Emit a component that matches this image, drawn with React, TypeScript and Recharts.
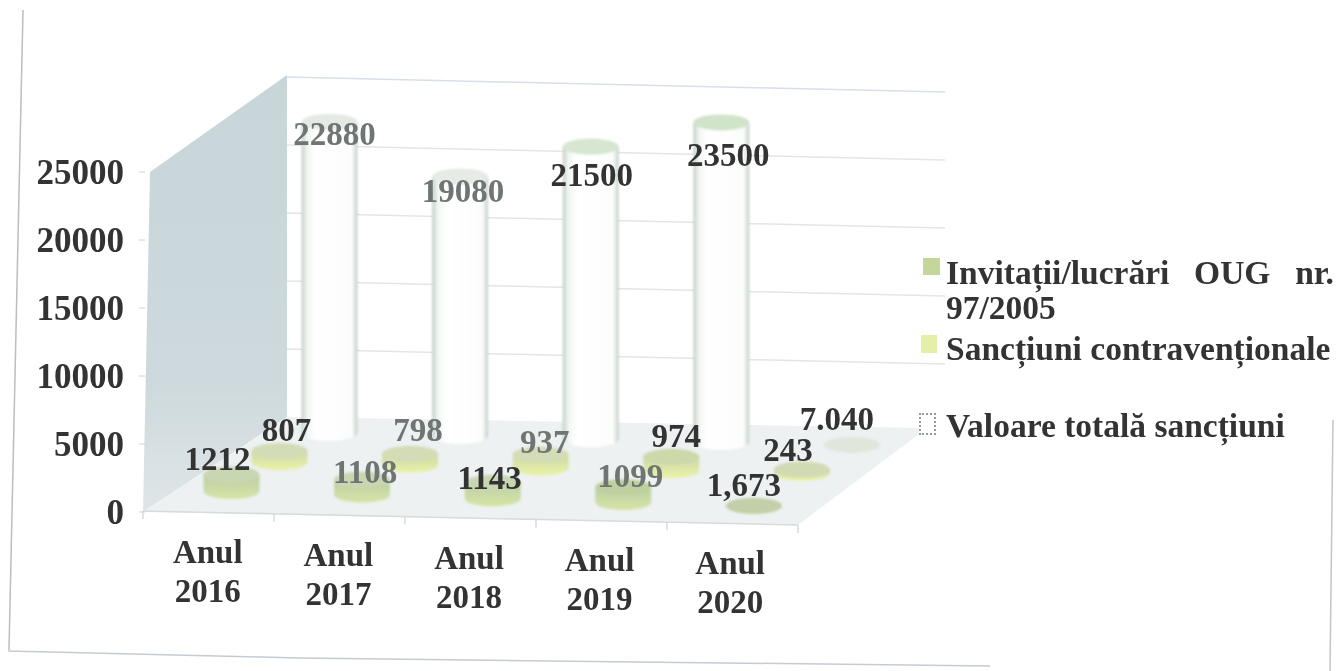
import { Bar, BarChart, LabelList, Legend, XAxis, YAxis } from "recharts";

const categories = ["Anul 2016", "Anul 2017", "Anul 2018", "Anul 2019", "Anul 2020"];
const invitatii = [1212, 1108, 1143, 1099, 1.673];
const sanctiuni = [807, 798, 937, 974, 243];
const valoare = [22880, 19080, 21500, 23500, 7.04];

const invitatiiLabels = ["1212", "1108", "1143", "1099", "1,673"];
const sanctiuniLabels = ["807", "798", "937", "974", "243"];
const valoareLabels = ["22880", "19080", "21500", "23500", "7.040"];

const yTicks = [0, 5000, 10000, 15000, 20000, 25000];

const rows = categories.map((category, i) => ({
  category,
  invitatii: invitatii[i],
  sanctiuni: sanctiuni[i],
  valoare: valoare[i],
}));

const FONT = "'Liberation Serif', serif";
const INK = "#333";
const FADED = "#6f7573";

// the chart is a scanned 3d one, each series row sits deeper on the floor
const BAR_WIDTH = 56;

type Row3d = {
  dx: number;
  dy: number;
  slope: number;
  body: string;
  tops: string[];
  nudges: [number, number][];
  inks: string[];
  labels: string[];
};

const frontRow: Row3d = {
  dx: 21.5,
  dy: -21,
  slope: 3.7,
  body: "url(#greenBody)",
  tops: ["#c9d6b2", "#c9d6b2", "#c9d6b2", "#bfd09f", "#c2cfa9"],
  nudges: [[-14, -16], [3, -8], [-3, -5], [7, -12], [-10, -21]],
  inks: [INK, FADED, INK, FADED, INK],
  labels: invitatiiLabels,
};

const middleRow: Row3d = {
  dx: 69.5,
  dy: -50,
  slope: 2.7,
  body: "url(#yellowBody)",
  tops: ["#d3dcb6", "#d3dcb6", "#d3dcb6", "#cdd8ab", "#d2dab4"],
  nudges: [[7, -22], [8, -24], [4, -13], [5, -21], [-14, -20]],
  inks: [INK, FADED, FADED, INK, INK],
  labels: sanctiuniLabels,
};

const backRow: Row3d = {
  dx: 119.5,
  dy: -79,
  slope: 3,
  body: "url(#whiteBody)",
  tops: ["#e4e9e4", "#e6ebe6", "#d6e6d0", "#cfe4c8", "#e0e6dc"],
  nudges: [[5, 12], [3, 14], [1, 28], [7, 32], [-15, -26]],
  inks: [FADED, FADED, INK, INK, INK],
  labels: valoareLabels,
};

const cylinder = (row: Row3d) => (props: any) => {
  const { x, y, width, height, index } = props;
  const rx = width / 2;
  const ry = 8;
  const cx = x + rx + row.dx;
  const shift = row.dy + row.slope * index;
  const top = y + shift;
  const base = y + height + shift;
  return (
    <g style={{ filter: "blur(1px)" }}>
      <path
        d={`M${cx - rx} ${top} L${cx - rx} ${base} A${rx} ${ry} 0 0 0 ${cx + rx} ${base} L${cx + rx} ${top} Z`}
        fill={row.body}
      />
      <ellipse cx={cx} cy={top} rx={rx} ry={ry} fill={row.tops[index]} />
    </g>
  );
};

const rowLabel = (row: Row3d) => (props: any) => {
  const box = props.viewBox ?? props;
  const index = props.index;
  const cx = box.x + box.width / 2 + row.dx;
  const top = box.y + row.dy + row.slope * index;
  const [nx, ny] = row.nudges[index];
  return (
    <text
      x={cx + nx}
      y={top + ny}
      dy="0.35em"
      textAnchor="middle"
      fontFamily={FONT}
      fontWeight="bold"
      fontSize={33}
      fill={row.inks[index]}
    >
      {row.labels[index]}
    </text>
  );
};

const YearTick = (props: any) => {
  const { x, y, payload, index } = props;
  const [word, year] = String(payload.value).split(" ");
  const drop = 2.8 * index;
  return (
    <text x={x - 2.5} textAnchor="middle" fontFamily={FONT} fontWeight="bold" fontSize={33} fill={INK}>
      <tspan x={x - 2.5} y={y + 51 + drop}>{word}</tspan>
      <tspan x={x - 2.5} y={y + 90 + drop}>{year}</tspan>
    </text>
  );
};

const legendTops = [255, 331, 408];
const legendMarks = [
  { left: 923, top: 258, w: 17, h: 17 },
  { left: 921, top: 335, w: 16, h: 18 },
  { left: 919, top: 413, w: 17, h: 22 },
];

const ChartLegend = (props: any) => {
  const items = props.payload ?? [];
  return (
    <div style={{ position: "relative", width: 1336, height: 671, fontFamily: FONT }}>
      {items.map((item: any, i: number) => (
        <div key={item.value}>
          <div
            style={{
              position: "absolute",
              left: legendMarks[i].left,
              top: legendMarks[i].top,
              width: legendMarks[i].w,
              height: legendMarks[i].h,
              background: item.color,
              border: i === 2 ? "2px dotted #999" : "none",
              boxSizing: "border-box",
            }}
          />
          <div
            style={{
              position: "absolute",
              left: 946,
              top: legendTops[i],
              width: 388,
              textAlign: "justify",
              fontWeight: "bold",
              fontSize: 33.5,
              lineHeight: "35px",
              color: INK,
            }}
          >
            {item.value}
          </div>
        </div>
      ))}
    </div>
  );
};

// walls and floor of the 3d box, these are behind the chart
const wallGrid = yTicks.map((v) => 417 - v * 0.0136);
const floorTicks = [0, 1, 2, 3, 4, 5];

const Box3d = () => (
  <svg width={1336} height={671} style={{ position: "absolute", left: 0, top: 0 }}>
    <defs>
      <linearGradient id="whiteBody" x1="0" x2="1" y1="0" y2="0">
        <stop offset="0" stopColor="#c2cfc8" />
        <stop offset="0.1" stopColor="#f2f6f2" />
        <stop offset="0.25" stopColor="#ffffff" />
        <stop offset="0.9" stopColor="#fbfdfb" />
        <stop offset="1" stopColor="#c2cfc8" />
      </linearGradient>
      <linearGradient id="greenBody" x1="0" x2="0" y1="0" y2="1">
        <stop offset="0" stopColor="#bccea6" />
        <stop offset="1" stopColor="#d6e6a6" />
      </linearGradient>
      <linearGradient id="yellowBody" x1="0" x2="0" y1="0" y2="1">
        <stop offset="0" stopColor="#ced9a8" />
        <stop offset="1" stopColor="#eaf2a6" />
      </linearGradient>
      <linearGradient id="wallFade" x1="0" x2="0" y1="0" y2="1">
        <stop offset="0" stopColor="#c8d6d9" />
        <stop offset="0.7" stopColor="#cdd9dc" />
        <stop offset="1" stopColor="#dfe6e8" />
      </linearGradient>
    </defs>
    <line x1={23} y1={10} x2={9} y2={650} stroke="#bdbdbd" strokeWidth={1.5} />
    <polyline points="8,651 300,658 990,666" fill="none" stroke="#c6cbd2" strokeWidth={1.5} />
    <line x1={1333} y1={420} x2={1330} y2={671} stroke="#c4c4c4" strokeWidth={1.5} />
    <polygon points="150,172 287,75 287,417 143,512" fill="url(#wallFade)" />
    <polygon points="143,512 287,417 927,428 798,525" fill="#edf1f1" />
    {wallGrid.slice(1).map((y, i) => (
      <line
        key={y}
        x1={287}
        y1={y}
        x2={945}
        y2={y + 15}
        stroke={i === 4 ? "#d8deea" : "#e2e6e5"}
        strokeWidth={1.5}
      />
    ))}
    <line x1={143} y1={511} x2={798} y2={525} stroke="#d6dbdb" strokeWidth={1.5} />
    {floorTicks.map((i) => (
      <line
        key={i}
        x1={143 + 131 * i}
        y1={511 + 2.8 * i}
        x2={143 + 131 * i}
        y2={519 + 2.8 * i}
        stroke="#d6dbdb"
        strokeWidth={1.5}
      />
    ))}
  </svg>
);

export default function App() {
  return (
    <div
      style={{
        position: "absolute",
        left: 0,
        top: 0,
        width: 1336,
        height: 671,
        background: "#fff",
        overflow: "hidden",
        filter: "blur(0.5px)",
      }}
    >
      <Box3d />
      <div style={{ position: "absolute", left: 0, top: 0 }}>
        <BarChart
          width={1336}
          height={671}
          data={rows}
          barSize={BAR_WIDTH}
          barGap={-BAR_WIDTH}
          margin={{ top: 172, right: 538, bottom: 99, left: 35 }}
        >
          <XAxis
            dataKey="category"
            height={60}
            axisLine={false}
            tickLine={false}
            tickSize={0}
            tickMargin={0}
            interval={0}
            tick={<YearTick />}
          />
          <YAxis
            width={110}
            domain={[0, 25000]}
            ticks={yTicks}
            axisLine={false}
            tickSize={6}
            tickMargin={15}
            tickLine={{ stroke: "#d0d0d0" }}
            tick={{ fontFamily: FONT, fontWeight: "bold", fontSize: 35, fill: INK }}
          />
          <Legend
            layout="horizontal"
            align="center"
            verticalAlign="middle"
            wrapperStyle={{ left: 0, top: 0, width: 1336, height: 671, pointerEvents: "none" }}
            content={<ChartLegend />}
          />
          <Bar dataKey="valoare" name="Valoare totală sancțiuni" fill="#ffffff" isAnimationActive={false} shape={cylinder(backRow)}>
            <LabelList dataKey="valoare" content={rowLabel(backRow)} />
          </Bar>
          <Bar dataKey="sanctiuni" name="Sancțiuni contravenționale" fill="#e6efa8" isAnimationActive={false} shape={cylinder(middleRow)}>
            <LabelList dataKey="sanctiuni" content={rowLabel(middleRow)} />
          </Bar>
          <Bar dataKey="invitatii" name="Invitații/lucrări OUG nr. 97/2005" fill="#c3d79b" isAnimationActive={false} shape={cylinder(frontRow)}>
            <LabelList dataKey="invitatii" content={rowLabel(frontRow)} />
          </Bar>
        </BarChart>
      </div>
    </div>
  );
}
